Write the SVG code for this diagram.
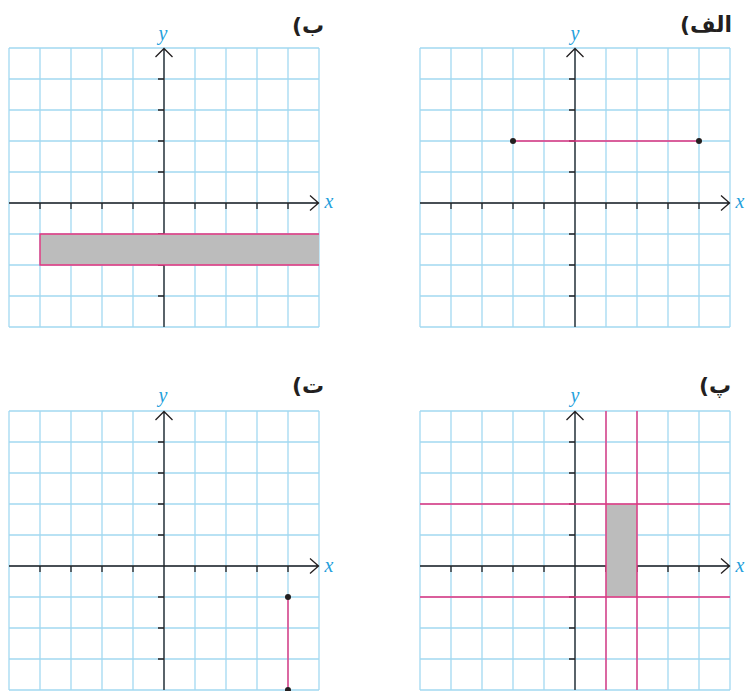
<svg xmlns="http://www.w3.org/2000/svg" xmlns:xlink="http://www.w3.org/1999/xlink" width="745" height="691" viewBox="0 0 745 691">
<style>
.grid{fill:none;stroke:#a3d9f1;stroke-width:1.3}
.axis{fill:none;stroke:#231f20;stroke-width:1.3}
.pink{fill:none;stroke:#e5337f;stroke-width:1.4}
.shade{fill:#bcbcbc;stroke:none}
.dot{fill:#231f20}
.ax{font-family:"Liberation Serif","DejaVu Serif",serif;font-style:italic;font-size:20px;fill:#1fa0dc}
.lbl{font-family:"DejaVu Sans","Noto Sans",sans-serif;font-weight:bold;font-size:22px;fill:#231f20}
</style>
<defs>
<path id="gridlines" class="grid" d="M0 0V279M31 0V279M62 0V279M93 0V279M124 0V279M155 0V279M186 0V279M217 0V279M248 0V279M279 0V279M310 0V279M0 0H310M0 31H310M0 62H310M0 93H310M0 124H310M0 155H310M0 186H310M0 217H310M0 248H310M0 279H310"/>
<path id="axes" class="axis" d="M155 0V279M0 155H310M146.5 9L155 0.5L163.5 9M301 147.5L309.5 155L301 162.5M149 31H155M149 62H155M149 93H155M149 124H155M149 186H155M149 217H155M149 248H155M31 155V161M62 155V161M93 155V161M124 155V161M186 155V161M217 155V161M248 155V161M279 155V161"/>
</defs>

<g id="panel-b">
<g transform="translate(9,48)">
<use xlink:href="#gridlines"/>
<use xlink:href="#axes"/>
<rect class="shade" x="31" y="186" width="279" height="31"/>
<path class="pink" d="M310 186H31V217H310"/>
</g>
<text class="ax" x="163" y="40" text-anchor="middle">y</text>
<text class="ax" x="329" y="208" text-anchor="middle">x</text>
<text class="lbl" x="308" y="33" direction="rtl" text-anchor="middle">ب)</text>
</g>

<g id="panel-alef">
<g transform="translate(420,48)">
<use xlink:href="#gridlines"/>
<use xlink:href="#axes"/>
<path class="pink" d="M93 93H279"/>
<circle class="dot" cx="93" cy="93" r="3"/>
<circle class="dot" cx="279" cy="93" r="3"/>
</g>
<text class="ax" x="575" y="40" text-anchor="middle">y</text>
<text class="ax" x="740" y="208" text-anchor="middle">x</text>
<text class="lbl" x="706" y="32" direction="rtl" text-anchor="middle">الف)</text>
</g>

<g id="panel-te">
<g transform="translate(9,411)">
<use xlink:href="#gridlines"/>
<use xlink:href="#axes"/>
<path class="pink" d="M279 186V279"/>
<circle class="dot" cx="279" cy="186" r="3"/>
<circle class="dot" cx="279" cy="279" r="3"/>
</g>
<text class="ax" x="163" y="402" text-anchor="middle">y</text>
<text class="ax" x="329" y="572" text-anchor="middle">x</text>
<text class="lbl" x="308" y="393" direction="rtl" text-anchor="middle">ت)</text>
</g>

<g id="panel-pe">
<g transform="translate(420,411)">
<use xlink:href="#gridlines"/>
<use xlink:href="#axes"/>
<rect class="shade" x="186" y="93" width="31" height="93"/>
<path class="pink" d="M186 0V279M217 0V279M0 93H310M0 186H310"/>
</g>
<text class="ax" x="575" y="402" text-anchor="middle">y</text>
<text class="ax" x="740" y="572" text-anchor="middle">x</text>
<text class="lbl" x="715" y="393" direction="rtl" text-anchor="middle">پ)</text>
</g>
</svg>
